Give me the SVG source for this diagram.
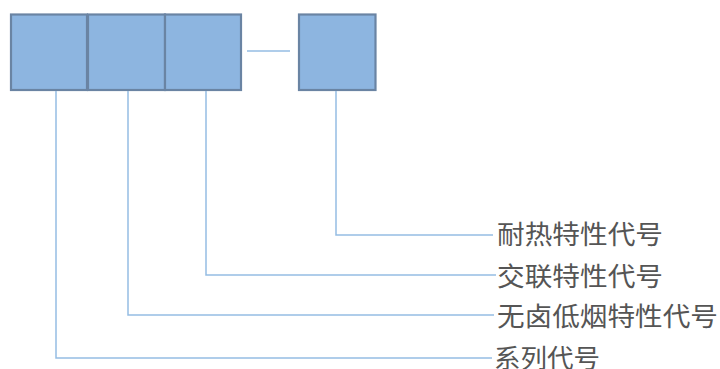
<svg xmlns="http://www.w3.org/2000/svg" width="720" height="369" viewBox="0 0 720 369">
<style>
.box{fill:#8db5e0;stroke:#6a84a3;stroke-width:2.2}
.ln{fill:none;stroke:#95bde3;stroke-width:1.5}
.t{font-family:"Noto Sans CJK SC","Noto Sans CJK JP",sans-serif;font-size:26px;fill:#555555}
</style>
<rect width="720" height="369" fill="#ffffff"/>
<g id="box1"><rect class="box" x="11" y="14.5" width="76" height="75.5"/></g>
<g id="box2"><rect class="box" x="88" y="14.5" width="77" height="75.5"/></g>
<g id="box3"><rect class="box" x="165" y="14.5" width="76" height="75.5"/></g>
<g id="box4"><rect class="box" x="299" y="14.5" width="76.5" height="75.5"/></g>
<g id="connectors">
<line class="ln" x1="247" y1="51" x2="290" y2="51"/>
<polyline class="ln" points="336,91 336,235 493,235"/>
<polyline class="ln" points="206,91 206,275 496,275"/>
<polyline class="ln" points="128,91 128,315 494,315"/>
<polyline class="ln" points="56,91 56,358 492,358"/>
</g>
<g id="labels">
<text class="t" x="497" y="244" textLength="166" lengthAdjust="spacingAndGlyphs">耐热特性代号</text>
<text class="t" x="497" y="286" textLength="166" lengthAdjust="spacingAndGlyphs">交联特性代号</text>
<text class="t" x="497" y="326" textLength="221" lengthAdjust="spacingAndGlyphs">无卤低烟特性代号</text>
<text class="t" x="494" y="368" textLength="106" lengthAdjust="spacingAndGlyphs">系列代号</text>
</g>
</svg>
